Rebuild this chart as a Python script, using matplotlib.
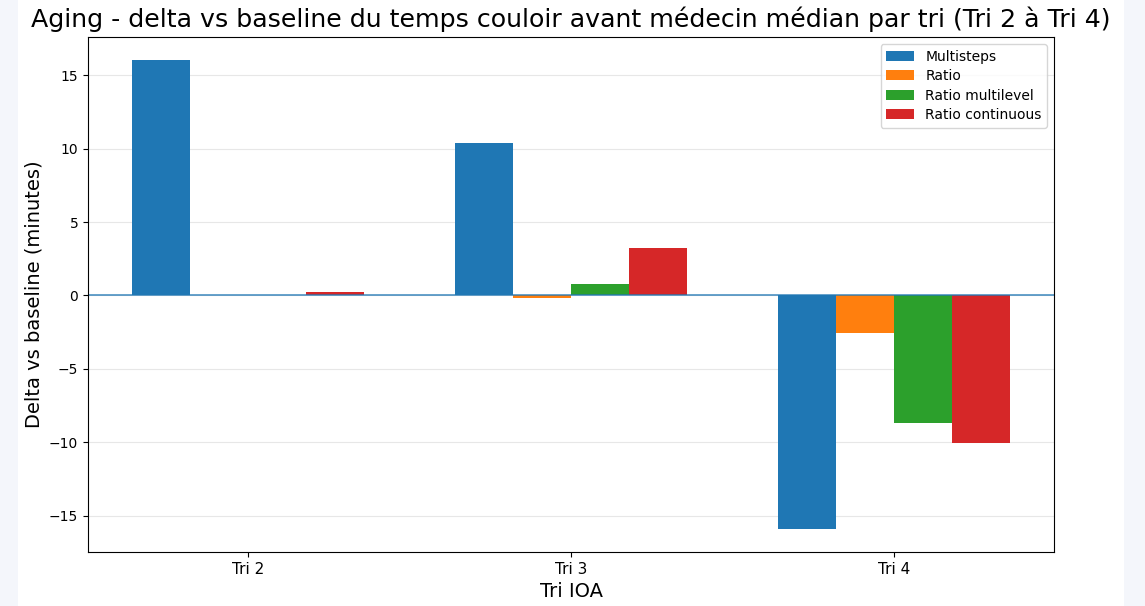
import matplotlib
matplotlib.use("Agg")
import matplotlib.pyplot as plt
import numpy as np
from matplotlib.patches import Rectangle

# data
tris = ["Tri 2", "Tri 3", "Tri 4"]
multisteps = [16.02, 10.39, -15.89]
ratio = [0.0, -0.15, -2.58]
ratio_multilevel = [0.0, 0.75, -8.69]
ratio_continuous = [0.25, 3.22, -10.05]

series = [
    ("Multisteps", multisteps, "tab:blue"),
    ("Ratio", ratio, "tab:orange"),
    ("Ratio multilevel", ratio_multilevel, "tab:green"),
    ("Ratio continuous", ratio_continuous, "tab:red"),
]

fig = plt.figure(figsize=(11.45, 6.06), dpi=100)
fig.patch.set_facecolor("#f4f6fb")
# white card behind the chart
fig.patches.append(Rectangle((18 / 1145, 0), 1106 / 1145, 1, transform=fig.transFigure,
                             facecolor="white", edgecolor="none", zorder=-10))

ax = fig.add_axes([88 / 1145, 54 / 606, 966 / 1145, 515 / 606])

x = np.arange(len(tris))
width = 0.18
for i, (name, vals, color) in enumerate(series):
    ax.bar(x + (i - 1.5) * width, vals, width, label=name, color=color)

ax.axhline(0, color="tab:blue", linewidth=1.2, alpha=0.8)
ax.set_xticks(x)
ax.set_xticklabels(tris, fontsize=11)
ax.tick_params(axis="y", labelsize=10)
ax.grid(axis="y", alpha=0.3)
ax.set_axisbelow(True)

ax.set_title("Aging - delta vs baseline du temps couloir avant médecin médian par tri (Tri 2 à Tri 4)",
             fontsize=18.2, pad=7)
ax.set_xlabel("Tri IOA", fontsize=14)
ax.set_ylabel("Delta vs baseline (minutes)", fontsize=14)
ax.legend(loc="upper right", fontsize=10, labelspacing=0.4)

fig.savefig("out.png", dpi=100, facecolor=fig.get_facecolor())
